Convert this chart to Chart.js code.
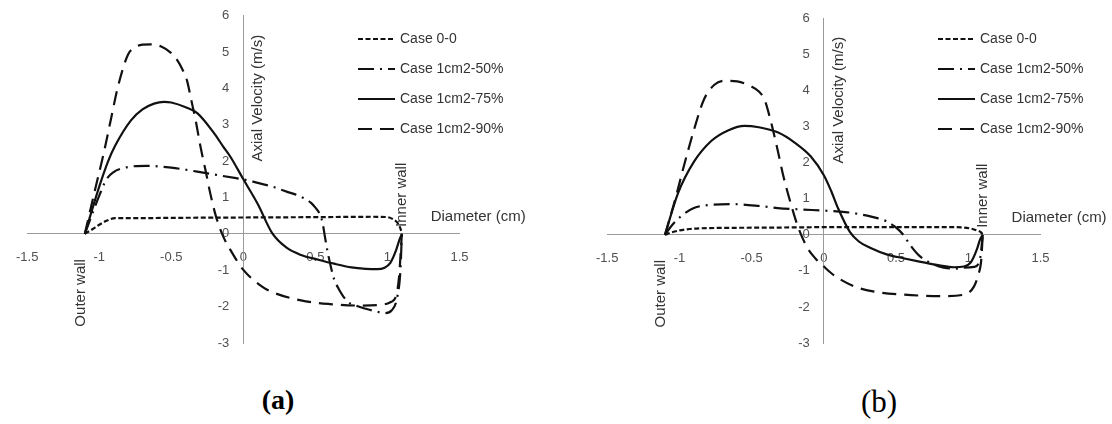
<!DOCTYPE html>
<html>
<head>
<meta charset="utf-8">
<script src="https://cdn.jsdelivr.net/npm/chart.js@4.4.1/dist/chart.umd.min.js"></script>
<style>
  body { margin: 0; background: #fff; width: 1112px; height: 424px; position: relative; overflow: hidden; }
  canvas { position: absolute; top: 0; }
  #chartA { left: 0; }
  #chartB { left: 580px; }
  .cap { position: absolute; font-family: "Liberation Serif", "Times New Roman", serif; color: #000; transform: translateX(-50%); white-space: nowrap; }
</style>
</head>
<body>
<canvas id="chartA" width="532" height="360" style="width:532px;height:360px"></canvas>
<canvas id="chartB" width="532" height="360" style="width:532px;height:360px"></canvas>
<div class="cap" style="left:278px; top:386px; font-size:28px; line-height:28px; font-weight:bold;">(a)</div>
<div class="cap" style="left:879px; top:386px; font-size:31px; line-height:31px;">(b)</div>
<script>
// подписи
const seriesNames = ["Case 0-0", "Case 1cm2-50%", "Case 1cm2-75%", "Case 1cm2-90%"];
const xTitle = "Diameter (cm)";
const yTitle = "Axial Velocity (m/s)";
const xTicks = [-1.5, -1, -0.5, 0, 0.5, 1, 1.5];
const yTicks = [-3, -2, -1, 0, 1, 2, 3, 4, 5, 6];

// график (a)
const xA0 = [-1.1, -1.05, -1.0, -0.95, -0.89, -0.8, -0.5, 0, 0.5, 0.9, 1.0, 1.04, 1.07, 1.09, 1.1];
const yA0 = [0, 0.12, 0.25, 0.36, 0.43, 0.43, 0.44, 0.45, 0.46, 0.47, 0.46, 0.40, 0.30, 0.15, 0];
const xA1 = [-1.1, -1.0, -0.95, -0.9, -0.85, -0.78, -0.67, -0.5, -0.32, -0.05, 0, 0.1, 0.2, 0.3, 0.35, 0.41, 0.47, 0.5, 0.53, 0.55, 0.567, 0.585, 0.61, 0.63, 0.66, 0.72, 0.78, 0.85, 0.92, 0.98, 1.03, 1.07, 1.09, 1.1];
const yA1 = [0, 1.05, 1.5, 1.7, 1.79, 1.85, 1.87, 1.82, 1.71, 1.53, 1.5, 1.4, 1.3, 1.16, 1.1, 1.0, 0.85, 0.72, 0.55, 0.3, -0.1, -0.5, -0.95, -1.25, -1.5, -1.85, -1.97, -2.06, -2.13, -2.18, -2.1, -1.7, -1.0, 0];
const xA2 = [-1.1, -1.0, -0.94, -0.89, -0.78, -0.7, -0.62, -0.55, -0.5, -0.4, -0.32, -0.2, -0.14, -0.09, 0, 0.1, 0.2, 0.3, 0.4, 0.52, 0.63, 0.75, 0.85, 0.93, 0.98, 1.02, 1.06, 1.08, 1.1];
const yA2 = [0, 1.3, 1.98, 2.42, 3.12, 3.42, 3.58, 3.63, 3.61, 3.48, 3.32, 2.75, 2.4, 2.12, 1.5, 0.82, 0.02, -0.38, -0.58, -0.71, -0.82, -0.92, -0.96, -0.97, -0.93, -0.8, -0.45, -0.2, 0];
const xA3 = [-1.1, -1.03, -0.97, -0.92, -0.87, -0.8, -0.75, -0.7, -0.64, -0.57, -0.5, -0.46, -0.42, -0.39, -0.36, -0.33, -0.3, -0.26, -0.23, -0.19, -0.14, -0.09, 0, 0.13, 0.2, 0.4, 0.6, 0.8, 0.95, 1.02, 1.06, 1.08, 1.1];
const yA3 = [0, 1.2, 2.2, 3.13, 4.05, 4.93, 5.13, 5.2, 5.21, 5.15, 4.97, 4.78, 4.5, 4.2, 3.65, 3.1, 2.45, 1.7, 1.12, 0.48, -0.07, -0.44, -0.99, -1.45, -1.6, -1.83, -1.93, -1.97, -1.95, -1.88, -1.7, -1.2, 0];

// график (b)
const xB0 = [-1.1, -1.05, -1.0, -0.93, -0.85, -0.7, -0.3, 0, 0.5, 0.9, 0.97, 1.02, 1.06, 1.09, 1.1];
const yB0 = [0, 0.07, 0.12, 0.16, 0.18, 0.19, 0.2, 0.21, 0.21, 0.21, 0.2, 0.17, 0.12, 0.06, 0];
const xB1 = [-1.1, -1.05, -0.99, -0.9, -0.78, -0.64, -0.45, -0.32, -0.15, 0, 0.15, 0.3, 0.37, 0.43, 0.49, 0.55, 0.6, 0.66, 0.75, 0.83, 0.9, 0.97, 1.04, 1.08, 1.1];
const yB1 = [0, 0.27, 0.51, 0.74, 0.83, 0.85, 0.8, 0.74, 0.7, 0.67, 0.63, 0.53, 0.46, 0.38, 0.23, 0, -0.3, -0.58, -0.8, -0.91, -0.94, -0.91, -0.89, -0.7, 0];
const xB2 = [-1.1, -1.01, -0.9, -0.78, -0.66, -0.55, -0.45, -0.32, -0.2, -0.09, 0, 0.05, 0.1, 0.18, 0.24, 0.32, 0.44, 0.55, 0.67, 0.8, 0.9, 0.97, 1.02, 1.06, 1.08, 1.1];
const yB2 = [0, 1.15, 2.02, 2.6, 2.9, 3.02, 2.98, 2.84, 2.55, 2.17, 1.65, 1.22, 0.72, 0.08, -0.18, -0.36, -0.55, -0.65, -0.75, -0.85, -0.9, -0.88, -0.75, -0.4, -0.15, 0];
const xB3 = [-1.1, -1.03, -0.97, -0.9, -0.83, -0.76, -0.69, -0.6, -0.51, -0.45, -0.41, -0.37, -0.32, -0.28, -0.23, -0.18, -0.12, -0.06, 0, 0.05, 0.12, 0.21, 0.34, 0.55, 0.83, 0.97, 1.04, 1.07, 1.09, 1.1];
const yB3 = [0, 0.97, 1.89, 2.9, 3.75, 4.15, 4.27, 4.25, 4.13, 3.97, 3.74, 3.19, 2.35, 1.62, 0.88, 0.23, -0.32, -0.65, -0.88, -1.06, -1.25, -1.43, -1.57, -1.66, -1.70, -1.66, -1.43, -1.1, -0.69, 0];

// стили линий
const dashes = [[5, 2.5], [16, 6, 2, 6], [], [14, 8]];
const lineColor = "#111";
const sansFont = '"Liberation Sans", Arial, sans-serif';

function vText(ctx, text, x, y) {
    ctx.save();
    ctx.translate(x, y);
    ctx.rotate(-Math.PI / 2);
    ctx.textAlign = "center";
    ctx.textBaseline = "middle";
    ctx.fillText(text, 0, 0);
    ctx.restore();
}

// подписи осей, стенок и легенда
const annotate = {
    id: "annotate",
    afterLayout(chart) {
        // метки оси y сдвигаем влево от оси
        chart.scales.y.getLabelItems().forEach(it => { it.options.translation[0] -= 14; });
    },
    afterDraw(chart) {
        const { ctx, scales: { x, y } } = chart;
        const x0 = x.getPixelForValue(0);
        const y0 = y.getPixelForValue(0);
        ctx.save();
        ctx.fillStyle = "#333";
        ctx.font = "15px " + sansFont;
        vText(ctx, yTitle, x0 + 15, y.getPixelForValue(3.73));
        vText(ctx, "Outer wall", x.getPixelForValue(-1.1) - 4, y0 + 59);
        vText(ctx, "Inner wall", x.getPixelForValue(1.1), y0 - 39);
        ctx.textAlign = "left";
        ctx.textBaseline = "middle";
        ctx.fillText(xTitle, x.getPixelForValue(1.3), y0 - 17);

        ctx.font = "14px " + sansFont;
        chart.data.datasets.forEach((ds, i) => {
            const ly = 39 + i * 30;
            ctx.setLineDash(ds.borderDash);
            ctx.lineWidth = 2.2;
            ctx.strokeStyle = lineColor;
            ctx.beginPath();
            ctx.moveTo(358, ly);
            ctx.lineTo(395, ly);
            ctx.stroke();
            ctx.fillText(ds.label, 400, ly);
        });
        ctx.restore();
    }
};

function makeChart(id, xs, ys, pad) {
    const datasets = xs.map((xv, k) => ({
        label: seriesNames[k],
        data: xv.map((v, i) => ({ x: v, y: ys[k][i] })),
        borderColor: lineColor,
        borderWidth: 2.2,
        borderDash: dashes[k],
        pointRadius: 0,
        fill: false,
        cubicInterpolationMode: "monotone",
    }));
    new Chart(document.getElementById(id), {
        type: "line",
        data: { datasets },
        options: {
            responsive: false,
            animation: false,
            layout: { padding: pad },
            plugins: { legend: { display: false }, tooltip: { enabled: false } },
            scales: {
                x: {
                    type: "linear",
                    min: -1.5,
                    max: 1.5,
                    position: { y: 0 },
                    afterBuildTicks: (s) => { s.ticks = xTicks.map(v => ({ value: v })); },
                    grid: { display: false, drawTicks: false },
                    border: { color: "#9a9a9a", width: 1 },
                    ticks: { padding: 16, color: "#505050", font: { family: sansFont, size: 13 }, callback: (v) => String(v) },
                },
                y: {
                    type: "linear",
                    min: -3,
                    max: 6,
                    position: { x: 0 },
                    afterBuildTicks: (s) => { s.ticks = yTicks.map(v => ({ value: v })); },
                    grid: { display: false, drawTicks: false },
                    border: { color: "#9a9a9a", width: 1 },
                    ticks: { color: "#505050", font: { family: sansFont, size: 13 }, callback: (v) => String(v) },
                },
            },
        },
        plugins: [annotate],
    });
}

makeChart("chartA", [xA0, xA1, xA2, xA3], [yA0, yA1, yA2, yA3], { left: 21.5, right: 72.5, top: 15.6, bottom: 17 });
makeChart("chartB", [xB0, xB1, xB2, xB3], [yB0, yB1, yB2, yB3], { left: 22.5, right: 71.5, top: 18.3, bottom: 17 });
</script>
</body>
</html>
